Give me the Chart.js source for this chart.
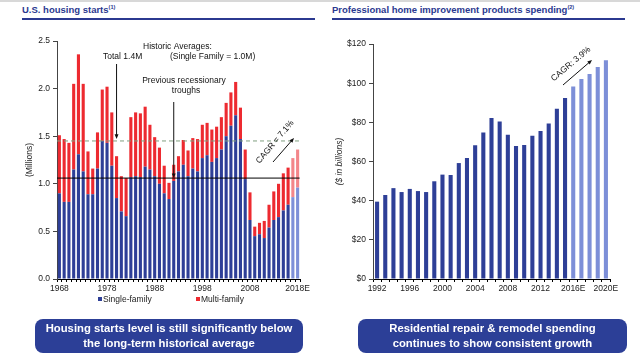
<!DOCTYPE html>
<html>
<head>
<meta charset="utf-8">
<script src="https://cdn.jsdelivr.net/npm/chart.js@4.4.1/dist/chart.umd.min.js"></script>
<style>
  body { margin: 0; background: #fff; font-family: "Liberation Sans", Arial, sans-serif; }
  #wrap { position: relative; width: 640px; height: 362px; overflow: hidden; border-top: 2px solid #d8d8d8; box-sizing: border-box; }
  .ttl { position: absolute; top: 2px; font-weight: bold; font-size: 9.5px; color: #2b3990; white-space: nowrap; }
  .ttl sup { font-size: 5.5px; }
  .rule { position: absolute; top: 16px; height: 2px; background: #2b3990; }
  canvas { position: absolute; top: 0; }
  .legend { position: absolute; top: 292px; font-size: 8.5px; color: #222; white-space: nowrap; }
  .legend span.sq { display: inline-block; width: 4px; height: 4px; margin-right: 1px; vertical-align: 1px; }
  .box { position: absolute; top: 317px; height: 34px; border-radius: 8px; background: #2c3f97; color: #fff;
         font-weight: bold; font-size: 11.3px; line-height: 15px; text-align: center;
         display: flex; align-items: center; justify-content: center; }
</style>
</head>
<body>
<div id="wrap">
  <div class="ttl" style="left:22px">U.S. housing starts<sup>(1)</sup></div>
  <div class="rule" style="left:22px; width:293px"></div>
  <div class="ttl" style="left:332px">Professional home improvement products spending<sup>(2)</sup></div>
  <div class="rule" style="left:332px; width:293px"></div>

  <canvas id="housing" width="320" height="305" style="left:0"></canvas>
  <canvas id="spending" width="320" height="305" style="left:320px"></canvas>

  <div class="legend" style="left:98px"><span class="sq" style="background:#2e3f97"></span>Single-family</div>
  <div class="legend" style="left:196px"><span class="sq" style="background:#ed2a30"></span>Multi-family</div>

  <div class="box" style="left:35px; width:268px">Housing starts level is still significantly below<br>the long-term historical average</div>
  <div class="box" style="left:358px; width:269px">Residential repair &amp; remodel spending<br>continues to show consistent growth</div>
</div>

<script>
// ---- housing starts (millions) ----
const housingYears = ['1968','1969','1970','1971','1972','1973','1974','1975','1976','1977',
    '1978','1979','1980','1981','1982','1983','1984','1985','1986','1987',
    '1988','1989','1990','1991','1992','1993','1994','1995','1996','1997',
    '1998','1999','2000','2001','2002','2003','2004','2005','2006','2007',
    '2008','2009','2010','2011','2012','2013','2014','2015','2016','2017','2018E'];
const singleFamily = [0.90,0.81,0.81,1.15,1.31,1.13,0.89,0.89,1.16,1.45,
    1.43,1.19,0.85,0.71,0.66,1.07,1.08,1.07,1.18,1.15,
    1.08,1.00,0.90,0.84,1.03,1.13,1.20,1.08,1.16,1.13,
    1.27,1.30,1.23,1.27,1.36,1.50,1.61,1.72,1.47,1.05,
    0.62,0.45,0.47,0.43,0.54,0.62,0.65,0.72,0.78,0.86,0.96];
const multiFamily = [0.61,0.66,0.62,0.90,1.05,0.92,0.45,0.27,0.38,0.54,
    0.59,0.56,0.44,0.37,0.40,0.63,0.67,0.67,0.63,0.47,
    0.41,0.38,0.29,0.17,0.17,0.16,0.26,0.27,0.32,0.34,
    0.35,0.34,0.34,0.33,0.34,0.35,0.35,0.35,0.33,0.31,
    0.29,0.10,0.12,0.18,0.24,0.30,0.35,0.39,0.39,0.41,0.40];
const housingEstimates = 2;          // last bars drawn lighter
const avgSingleLine = 1.06;
const avgTotalLine = 1.45;

// ---- professional home improvement spending ($ billions) ----
const spendYears = ['1992','1993','1994','1995','1996','1997','1998','1999','2000','2001',
    '2002','2003','2004','2005','2006','2007','2008','2009','2010','2011',
    '2012','2013','2014','2015','2016E','2017E','2018E','2019E','2020E'];
const spendValues = [39.5,42.9,46.4,44.4,46.0,44.9,44.4,49.9,53.3,53.1,
    59.2,61.8,68.3,74.8,82.2,80.4,73.7,67.9,68.4,73.2,
    75.6,79.4,87.0,92.4,98.3,102.1,104.7,108.3,111.7];
const spendFirstEstimate = '2016E';

const BLUE = '#2e3f97', BLUE_LT = '#7d8fd8', RED = '#ed2a30', RED_LT = '#f3868a';
const FONT = '"Liberation Sans", Arial, sans-serif';
Chart.defaults.font.family = FONT;
Chart.defaults.color = '#222';
Chart.defaults.devicePixelRatio = 1;

function arrow(ctx, x1, y1, x2, y2, head) {
    const a = Math.atan2(y2 - y1, x2 - x1);
    ctx.beginPath();
    ctx.moveTo(x1, y1);
    ctx.lineTo(x2 - Math.cos(a) * head * 0.8, y2 - Math.sin(a) * head * 0.8);
    ctx.stroke();
    ctx.beginPath();
    ctx.moveTo(x2, y2);
    ctx.lineTo(x2 - head * Math.cos(a - 0.4), y2 - head * Math.sin(a - 0.4));
    ctx.lineTo(x2 - head * Math.cos(a + 0.4), y2 - head * Math.sin(a + 0.4));
    ctx.closePath();
    ctx.fill();
}

function rotatedText(ctx, txt, x, y, angleDeg) {
    ctx.save();
    ctx.translate(x, y);
    ctx.rotate(angleDeg * Math.PI / 180);
    ctx.textAlign = 'center';
    ctx.textBaseline = 'middle';
    ctx.fillText(txt, 0, 0);
    ctx.restore();
}

// lines and notes on the housing chart
const housingNotes = {
    id: 'housingNotes',
    afterDatasetsDraw(chart) {
        const ctx = chart.ctx, xs = chart.scales.x, ys = chart.scales.y;
        const x0 = chart.chartArea.left;
        const xEnd = xs.getPixelForValue(housingYears.length - 1) + 2;
        ctx.save();
        // historic averages
        ctx.strokeStyle = '#000';
        ctx.lineWidth = 1;
        ctx.beginPath();
        ctx.moveTo(x0, ys.getPixelForValue(avgSingleLine));
        ctx.lineTo(xEnd, ys.getPixelForValue(avgSingleLine));
        ctx.stroke();
        ctx.strokeStyle = '#7f9f7f';
        ctx.setLineDash([4, 3]);
        ctx.beginPath();
        ctx.moveTo(x0, ys.getPixelForValue(avgTotalLine));
        ctx.lineTo(xEnd, ys.getPixelForValue(avgTotalLine));
        ctx.stroke();
        ctx.setLineDash([]);

        ctx.fillStyle = '#111';
        ctx.strokeStyle = '#111';
        ctx.font = '8.5px ' + FONT;
        ctx.textBaseline = 'middle';
        ctx.textAlign = 'left';
        ctx.fillText('Historic Averages:', 143, 45);
        ctx.fillText('(Single Family = 1.0M)', 170, 55);
        ctx.fillText('Total 1.4M', 103, 55);
        ctx.textAlign = 'center';
        ctx.fillText('Previous recessionary', 184, 79);
        ctx.fillText('troughs', 186, 89);

        const xa = xs.getPixelForValue(housingYears.indexOf('1980'));
        arrow(ctx, xa, 62, xa, ys.getPixelForValue(avgTotalLine) - 2, 5);
        const xb = xs.getPixelForValue(housingYears.indexOf('1992'));
        arrow(ctx, xb, 100, xb, ys.getPixelForValue(avgSingleLine), 5);

        arrow(ctx, 273, 160, 294, 136, 5);
        rotatedText(ctx, 'CAGR = 7.1%', 275, 140, -50);
        ctx.restore();
    }
};

const spendNotes = {
    id: 'spendNotes',
    afterDatasetsDraw(chart) {
        const ctx = chart.ctx;
        ctx.save();
        ctx.fillStyle = '#111';
        ctx.strokeStyle = '#111';
        ctx.font = '8.5px ' + FONT;
        arrow(ctx, 243, 83, 272, 58, 5);
        rotatedText(ctx, 'CAGR: 3.9%', 251, 62, -40);
        ctx.restore();
    }
};

function lastN(arr, n, normal, light) {
    return arr.map((_, i) => i >= arr.length - n ? light : normal);
}

new Chart(document.getElementById('housing'), {
    type: 'bar',
    data: {
        labels: housingYears,
        datasets: [
            { label: 'Single-family', data: singleFamily,
              backgroundColor: lastN(singleFamily, housingEstimates, BLUE, BLUE_LT) },
            { label: 'Multi-family', data: multiFamily,
              backgroundColor: lastN(multiFamily, housingEstimates, RED, RED_LT) }
        ]
    },
    options: {
        responsive: false,
        animation: false,
        layout: { padding: { left: 0, right: 20, top: 39, bottom: 0 } },
        datasets: { bar: { categoryPercentage: 1, barPercentage: 0.65 } },
        plugins: { legend: { display: false }, tooltip: { enabled: false } },
        scales: {
            x: {
                stacked: true,
                afterFit: s => { s.height = 28; },
                grid: { display: true, drawOnChartArea: false, tickLength: 3, color: '#000' },
                border: { color: '#000' },
                ticks: {
                    autoSkip: false, maxRotation: 0, padding: 2,
                    font: { size: 8.5 },
                    callback: (v, i) => i % 10 === 0 ? housingYears[i] : ''
                }
            },
            y: {
                stacked: true,
                min: 0, max: 2.5,
                afterFit: s => { s.width = 57; },
                grid: { display: true, drawOnChartArea: false, tickLength: 4, color: '#444' },
                border: { color: '#444' },
                ticks: { stepSize: 0.5, padding: 3, font: { size: 8.5 },
                         callback: v => v.toFixed(1) },
                title: { display: true, text: '(Millions)', font: { size: 8.5 },
                         padding: { top: 25, bottom: 0 } }
            }
        }
    },
    plugins: [housingNotes]
});

new Chart(document.getElementById('spending'), {
    type: 'bar',
    data: {
        labels: spendYears,
        datasets: [{
            label: 'Spending',
            data: spendValues,
            backgroundColor: spendYears.map((y, i) => i >= spendYears.indexOf(spendFirstEstimate) ? BLUE_LT : BLUE)
        }]
    },
    options: {
        responsive: false,
        animation: false,
        layout: { padding: { left: 0, right: 30, top: 42, bottom: 0 } },
        datasets: { bar: { categoryPercentage: 1, barPercentage: 0.5 } },
        plugins: { legend: { display: false }, tooltip: { enabled: false } },
        scales: {
            x: {
                afterFit: s => { s.height = 28; },
                grid: { display: true, drawOnChartArea: false, tickLength: 3, color: '#000' },
                border: { color: '#000' },
                ticks: {
                    autoSkip: false, maxRotation: 0, padding: 2,
                    font: { size: 8.5 },
                    callback: (v, i) => i % 4 === 0 ? spendYears[i] : ''
                }
            },
            y: {
                min: 0, max: 120,
                afterFit: s => { s.width = 53; },
                grid: { display: true, drawOnChartArea: false, tickLength: 4, color: '#444' },
                border: { color: '#444' },
                ticks: { stepSize: 20, padding: 3, font: { size: 8.5 }, callback: v => '$' + v },
                title: { display: true, text: '($ in billions)', font: { size: 8.5, style: 'italic' },
                         padding: { top: 15, bottom: 0 } }
            }
        }
    },
    plugins: [spendNotes]
});
</script>
</body>
</html>
